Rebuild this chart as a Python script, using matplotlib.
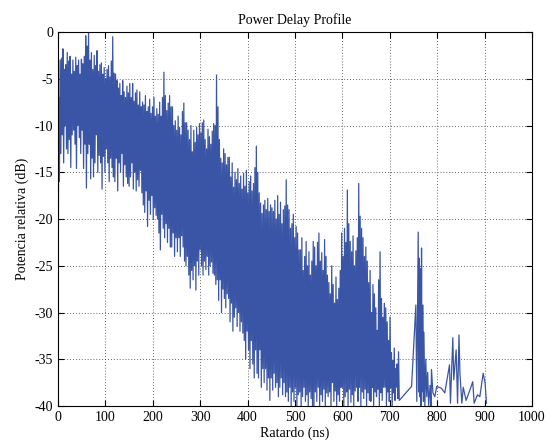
import numpy as np
import matplotlib
matplotlib.use("Agg")
import matplotlib.pyplot as plt

plt.rcParams['font.family'] = ['Liberation Serif', 'DejaVu Serif']
plt.rcParams['axes.unicode_minus'] = False

# muestras cada 1.5 ns, de 0 a 718.5 ns (dB)
potencia_main = [
    -40, -7, -16, -3, -13, -2.8, -11, -1.8, -14, -4, -10, -3.5, -12.5, -2.2, -13, -3.1, -11.5, -2.6, -14.5, -4.5,
    -11, -3, -10.5, -4.2, -12, -2.7, -14.6, -3.6, -10, -3, -11.3, -4.5, -13, -2.9, -10.5, -3.4, -14.6, -2.6, -12, -0.4,
    -16.7, -1.5, -13, 0, -12, -3, -15.7, -2.2, -13.5, -4, -15.5, -2.5, -14, -3.6, -11, -2, -15, -4.2, -13.2, -3.5,
    -14, -3.3, -16.8, -4.5, -13.3, -3.8, -15, -5, -12.5, -4, -14, -3.6, -16, -4.8, -13.5, -3.1, -14.5, -0.5, -15.5, -4.4,
    -16, -4.5, -13.5, -5.2, -17, -6, -14, -5.5, -15, -6.8, -13, -5.2, -16.5, -6.4, -14.2, -7, -15.5, -5.8, -16.2, -6.5,
    -16.5, -5.5, -15.5, -7, -14, -5.5, -16.8, -7.4, -15, -6.5, -17, -6.2, -15.8, -7.8, -16.5, -6.4, -14.8, -8, -17.2, -7.5,
    -18.5, -7.8, -19.3, -6.8, -17, -8.5, -20.8, -8, -18, -7.2, -19.5, -8.7, -17.5, -8, -20, -7, -18.8, -9, -19.6, -8.2,
    -20, -8.8, -21.5, -7.5, -23.3, -9, -19.5, -7, -21, -4.3, -22, -6.8, -20.5, -8.4, -22.5, -7.6, -21, -6.8, -23, -8,
    -23, -8, -21.5, -10, -24, -9.5, -22, -10.5, -23.5, -9, -22, -10.2, -24, -11, -21.8, -8.5, -23, -7.6, -24.5, -9.7,
    -25, -9.7, -24, -10.5, -26, -11.5, -27.4, -10, -25.5, -12.8, -26.5, -10.5, -25, -11.8, -27.6, -10.2, -24.5, -11, -26, -9.8,
    -23.3, -10.8, -25, -9.7, -26, -9.4, -24.5, -11.5, -25.4, -12.5, -24, -10.4, -26, -11.2, -25, -12, -24.6, -10.6, -25.8, -9.8,
    -26, -10, -27, -4.6, -26.5, -8, -28.7, -11.5, -26.5, -13.5, -30, -14, -27.5, -12.5, -28.5, -13, -29.5, -14.2, -28, -13.4,
    -28.5, -13.4, -31, -15.5, -29, -14, -32, -16.6, -30.5, -15, -29.5, -15.8, -31.5, -14.6, -30, -16.2, -32, -15.4, -31, -16.8,
    -32.2, -15.1, -33, -16.5, -35, -14.8, -32, -17.2, -34, -16, -36, -15.4, -33, -17, -35.5, -16.2, -37, -14.5, -34, -12.2,
    -36.5, -15, -37, -17.2, -34, -18.3, -38, -19.4, -36, -18.5, -37.5, -18, -36, -19, -38.3, -17.8, -37, -19.2, -39.4, -18.5,
    -37, -18.8, -38.3, -19.2, -36.5, -18, -38, -20, -37.5, -17.5, -39, -19.5, -38, -18.2, -37, -20.5, -38.8, -19, -37.5, -18.6,
    -39, -15.8, -38.5, -18.5, -39.5, -19, -38, -21, -40, -20.5, -38.5, -19.5, -39.5, -22, -38, -20.8, -40, -21.5, -38.8, -23.3,
    -38.5, -23.3, -40, -22, -39, -25.5, -38, -24, -39.5, -22.4, -38.8, -25, -40, -23.5, -38.5, -26, -39.2, -24.5, -40, -22.4,
    -40, -23, -38.5, -25, -39.5, -22.5, -38, -21.5, -40, -24.5, -38.8, -23.6, -39.5, -25.5, -38.2, -22.2, -40, -24, -38.6, -26,
    -39, -26.8, -38.5, -28, -40, -25, -37.5, -27, -39.5, -29, -38.4, -26.2, -40, -28.6, -38.8, -27.4, -39.5, -25.5, -38, -21.5,
    -38, -24, -40, -21, -39, -22.5, -38.5, -16.9, -40, -20.5, -38.2, -22.4, -39.6, -23.5, -38.8, -21.8, -40, -25, -38.4, -23.4,
    -38, -22, -39.5, -16.2, -38, -19.7, -40, -21, -38.5, -22, -39.2, -24, -38.2, -23, -40, -24.5, -38.6, -26.8, -39.4, -25.5,
    -39.5, -30, -38, -27, -40, -28, -38.5, -29.5, -39, -31.9, -38.2, -26.5, -40, -23.5, -38.6, -28.5, -39.4, -30.5, -38, -29,
    -38, -29.5, -40, -31, -38.5, -33, -39.5, -30.5, -38, -34.3, -40, -35.1, -38.6, -33.8, -39.4, -36, -38, -35.5, -39.2, -34.2,
]
retardo_main = np.arange(len(potencia_main)) * 1.5

# cola dispersa (ns, dB)
retardo_cola = [720, 746, 755, 757, 760, 761, 762, 763, 765, 766, 767, 768,
                770, 771, 772, 774, 776, 778, 780, 782, 785, 787, 788, 791,
                795, 799, 809, 816, 820, 826, 828, 833, 835, 840, 843, 846,
                848, 852, 855, 861, 869, 875, 878, 885, 890, 897, 901, 904]
potencia_cola = [-39.4, -37.9, -29.2, -39.5, -21.4, -38.5, -24.2, -39, -25.3,
                 -40, -23.1, -38.5, -29.2, -39.5, -32.1, -40, -35, -39, -36.4,
                 -40, -37.8, -40, -36.1, -38.6, -39, -37.9, -38.1, -38.6, -37.4,
                 -35.6, -39.7, -32.7, -37.2, -34, -39.7, -32.4, -36.5, -39.7,
                 -38, -39.4, -38.3, -37.4, -39.7, -38.8, -39, -36.5, -37.5, -39.7]

retardo = np.concatenate([retardo_main, retardo_cola])
potencia = np.concatenate([potencia_main, potencia_cola])

fig = plt.figure(figsize=(5.49, 4.47), dpi=100)
ax = fig.add_axes([0.1056, 0.0917, 0.8634, 0.8367])

ax.plot(retardo, potencia, color='#3a55a5', linewidth=0.9)

ax.set_xlim(0, 1000)
ax.set_ylim(-40, 0)
ax.set_xticks(np.arange(0, 1001, 100))
ax.set_yticks(np.arange(-40, 1, 5))
ax.grid(True, linestyle=(0, (1, 2.5)), color='#333333', linewidth=0.6)
ax.tick_params(direction='in', top=True, right=True, labelsize=10, length=4)
for s in ax.spines.values():
    s.set_linewidth(0.8)

ax.set_title('Power Delay Profile', fontsize=10)
ax.set_xlabel('Ratardo (ns)', fontsize=10, labelpad=2)
ax.set_ylabel('Potencia relativa (dB)', fontsize=10)

fig.savefig('out.png', dpi=100)
